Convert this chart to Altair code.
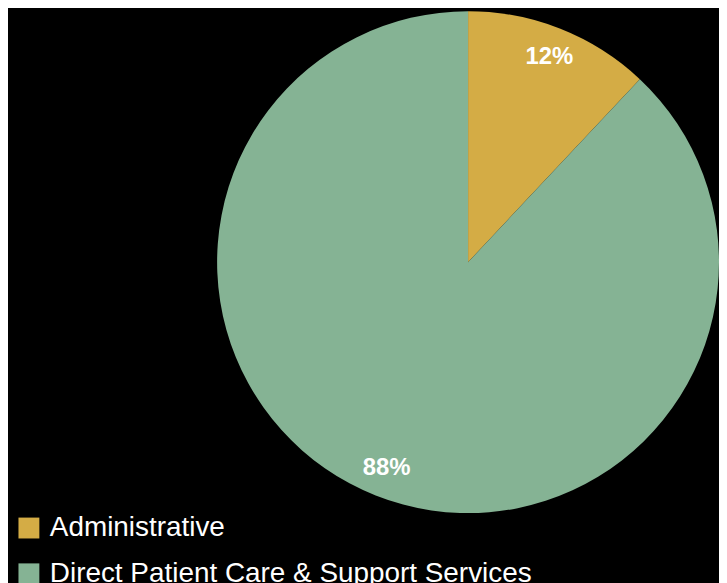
import altair as alt
import pandas as pd

categories = ["Administrative", "Direct Patient Care & Support Services"]
values = [12, 88]
labels = ["12%", "88%"]
colors = ["#D4AC45", "#85B394"]

df = pd.DataFrame({"category": categories, "value": values, "label": labels, "order": [0, 1]})

cx, cy = 462, 254

base = alt.Chart(df).encode(
    theta=alt.Theta("value:Q", stack=True),
    order=alt.Order("order:Q"),
)

pie = base.mark_arc(radius=252, stroke=None).encode(
    x=alt.value(cx), y=alt.value(cy),
    color=alt.Color(
        "category:N",
        scale=alt.Scale(domain=categories, range=colors),
        legend=alt.Legend(
            title=None, orient="none", legendX=7, legendY=507,
            symbolType="square", symbolSize=440, symbolStrokeWidth=0,
            labelFontSize=28, labelColor="white", labelFont="Liberation Sans",
            labelOffset=7, rowPadding=18, padding=0, labelLimit=700,
        ),
    ),
)

text = base.mark_text(radius=222, fontSize=24, fontWeight="bold", color="white",
                      font="Liberation Sans").encode(
    x=alt.value(cx), y=alt.value(cy), text="label:N"
)

chart = (pie + text).properties(width=711, height=567, background="black", padding=0).configure_view(stroke=None)

chart.save("out.html", embed_options={"renderer": "svg", "actions": False})
